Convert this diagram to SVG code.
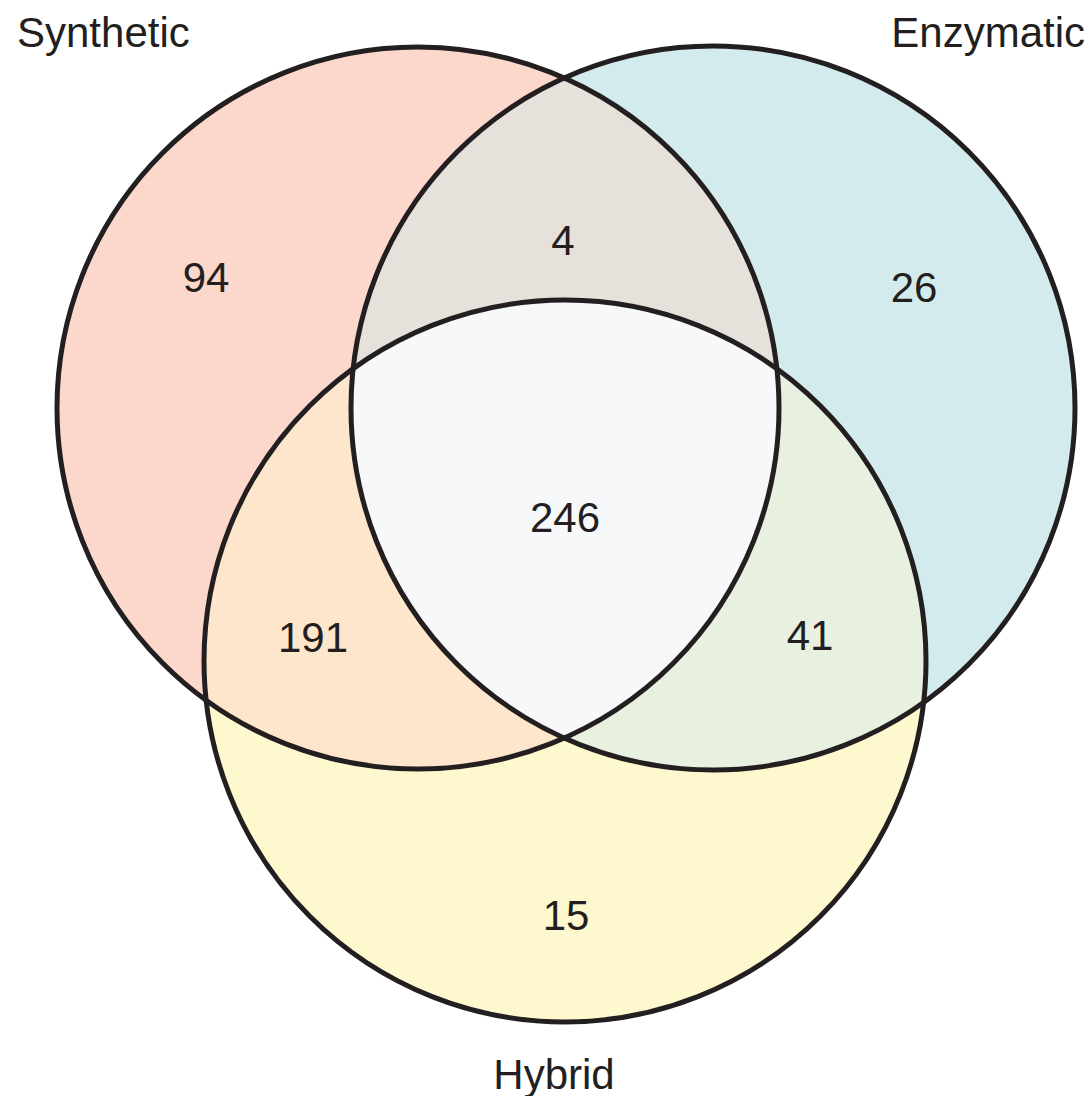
<svg xmlns="http://www.w3.org/2000/svg" width="1091" height="1096" viewBox="0 0 1091 1096">
<style>
.ring{fill:none;stroke:#231f20;stroke-width:5}
.lbl{font-family:"Liberation Sans",Arial,sans-serif;font-size:42px;fill:#231f20}
.num{font-family:"Liberation Sans",Arial,sans-serif;font-size:42px;fill:#231f20;text-anchor:middle}
</style>
<defs>
<clipPath id="cS"><circle cx="418" cy="408" r="361"/></clipPath>
<clipPath id="cE"><circle cx="713" cy="408" r="362"/></clipPath>
</defs>
<rect width="1091" height="1096" fill="#ffffff"/>
<g id="fills">
<circle cx="418" cy="408" r="361" fill="#fcd7cc"/>
<circle cx="713" cy="408" r="362" fill="#d3ebec"/>
<circle cx="713" cy="408" r="362" fill="#e6e1db" clip-path="url(#cS)"/>
<circle cx="565" cy="661" r="361" fill="#fef8ce"/>
<circle cx="565" cy="661" r="361" fill="#fee6cc" clip-path="url(#cS)"/>
<circle cx="565" cy="661" r="361" fill="#e8f1df" clip-path="url(#cE)"/>
<g clip-path="url(#cS)"><circle cx="565" cy="661" r="361" fill="#f6f8fa" clip-path="url(#cE)"/></g>
</g>
<g id="synthetic"><circle class="ring" cx="418" cy="408" r="361"/><text class="lbl" x="17" y="47">Synthetic</text></g>
<g id="enzymatic"><circle class="ring" cx="713" cy="408" r="362"/><text class="lbl" x="1085" y="47" text-anchor="end">Enzymatic</text></g>
<g id="hybrid"><circle class="ring" cx="565" cy="661" r="361"/><text class="lbl" x="554" y="1089" text-anchor="middle">Hybrid</text></g>
<g id="counts">
<text class="num" x="206" y="292">94</text>
<text class="num" x="563" y="255">4</text>
<text class="num" x="914" y="302">26</text>
<text class="num" x="565" y="532">246</text>
<text class="num" x="313" y="652">191</text>
<text class="num" x="810" y="650">41</text>
<text class="num" x="566" y="930">15</text>
</g>
</svg>
